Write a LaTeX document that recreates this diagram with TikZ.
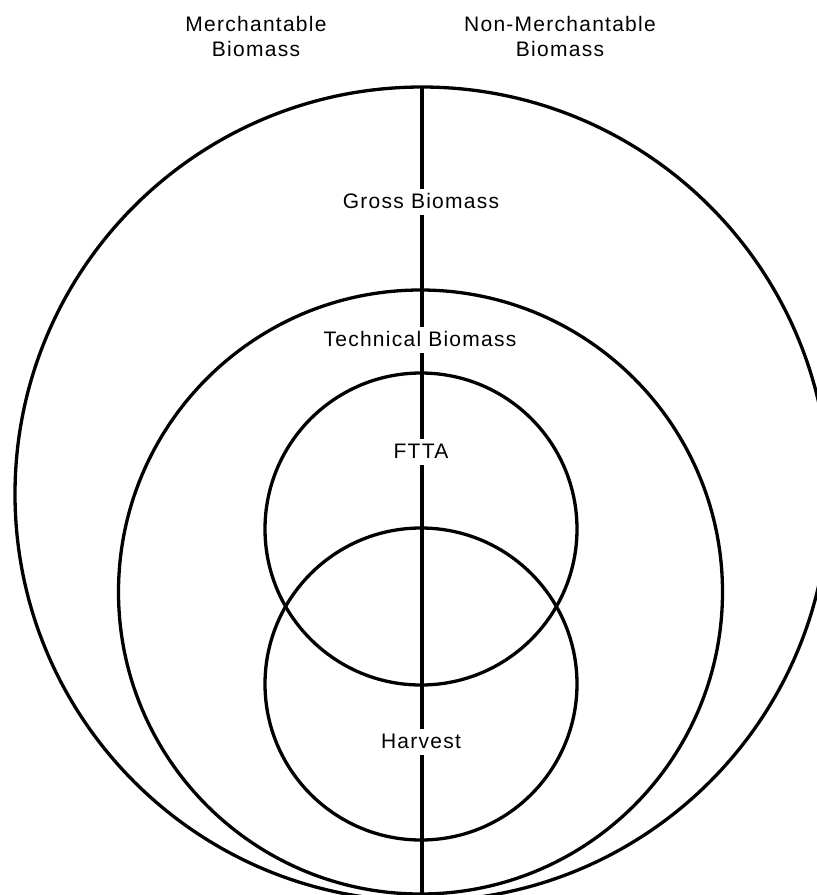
\documentclass[tikz,border=0pt]{standalone}
\usepackage{fontspec}
\setmainfont{Liberation Sans}[LetterSpace=6]
\begin{document}
\begin{tikzpicture}[x=1pt,y=-1pt,
  ring/.style={circle, draw, line width=3.3pt, inner sep=0pt, outer sep=0pt},
  divider/.style={line width=3.3pt},
  lbl/.style={fill=white, inner xsep=2pt, inner ysep=5pt, text height=14.5pt, text depth=1pt,
    font=\fontsize{21}{24}\selectfont},
  head/.style={align=center, inner sep=0pt, font=\fontsize{21}{25}\selectfont}]
\useasboundingbox (0,0) rectangle (817,895);
\clip (0,0) rectangle (817,895);
\fill[white] (0,0) rectangle (817,895);
% circles
\node[ring, minimum size=814pt] (outer) at (422,494) {};
\node[ring, minimum size=604pt] (tech) at (420.5,592) {};
\node[ring, minimum size=312pt] (ftta) at (421,529) {};
\node[ring, minimum size=312pt] (harv) at (421,684) {};
% divider
\coordinate (bottom) at (422,900);
\draw[divider] (outer.north) -- (bottom);
% labels
\node[lbl] (gross) at (421,202) {Gross Biomass};
\node[lbl] (techlbl) at (420,340) {Technical Biomass};
\node[lbl] (fttalbl) at (421,452) {FTTA};
\node[lbl] (harvlbl) at (421,742) {Harvest};
% headings
\node[head] (merch) at (256,36) {Merchantable\\Biomass};
\node[head] (nonmerch) at (560,36) {Non-Merchantable\\Biomass};
\end{tikzpicture}
\end{document}
